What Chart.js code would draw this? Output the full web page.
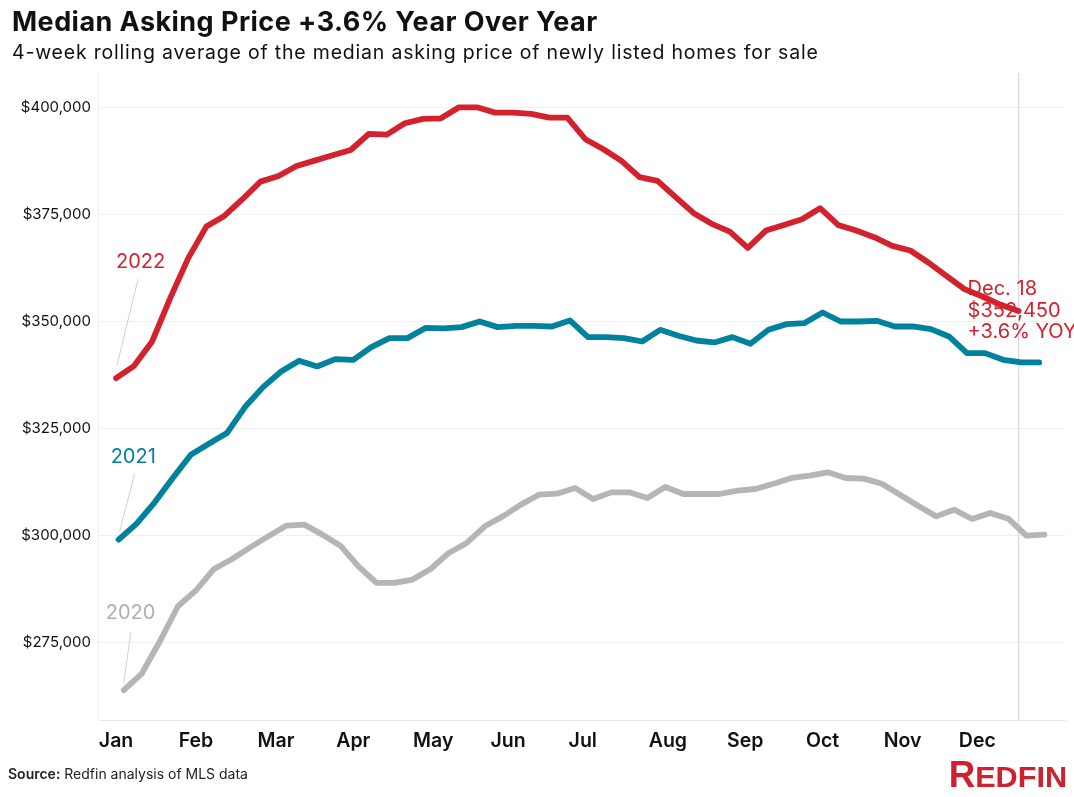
<!DOCTYPE html>
<html>
<head>
<meta charset="utf-8">
<script src="https://cdn.jsdelivr.net/npm/chart.js@4.4.1/dist/chart.umd.min.js"></script>
<style>
  body { margin: 0; background: #fff; }
  #wrap { position: relative; width: 1074px; height: 797px; overflow: hidden; }
  #chart { position: absolute; left: 0; top: 0; }
  .txt { position: absolute; white-space: nowrap; color: #111; }
  #title { left: 12px; top: 6px; font: bold 27px Inter, sans-serif; line-height: 32px; letter-spacing: 0.45px; }
  #subtitle { left: 12px; top: 40px; font: 19.5px Inter, sans-serif; line-height: 24px; letter-spacing: 0.8px; }
  #source { left: 8px; top: 765px; font: 14px Inter, sans-serif; line-height: 18px; color: #222; }
  #source b { font-weight: 600; }
  #logo { right: 7px; top: 757px; font: bold 36px "Liberation Sans Narrow", sans-serif; line-height: 36px; color: #d0202e; transform: scaleX(1.02); transform-origin: right top; }
  #logo span { font-size: 30px; }
</style>
</head>
<body>
<div id="wrap">
  <canvas id="chart" width="1074" height="797"></canvas>
  <div class="txt" id="title">Median Asking Price +3.6% Year Over Year</div>
  <div class="txt" id="subtitle">4-week rolling average of the median asking price of newly listed homes for sale</div>
  <div class="txt" id="source"><b>Source:</b> Redfin analysis of MLS data</div>
  <div class="txt" id="logo">R<span>EDFIN</span></div>
</div>
<script>
// weekly values, first week of each year starts on these day-of-year offsets (Jan 1 = 0)
const startDay2020 = 4;
const startDay2021 = 2;
const startDay2022 = 1;

const prices2020 = [
  263950, 267850, 275380, 283540, 287270, 292250, 294580, 297290, 299860, 302360,
  302590, 300260, 297690, 292870, 288990, 288990, 289770, 292250, 295990, 298320,
  302200, 304530, 307260, 309590, 309820, 311150, 308580, 310130, 310130, 308820,
  311380, 309750, 309750, 309750, 310520, 310910, 312150, 313480, 314020, 314800,
  313480, 313330, 312150, 309590, 307020, 304530, 306090, 303920, 305320, 303990,
  300030, 300260
];
const prices2021 = [
  299090, 302830, 307800, 313480, 318920, 321480, 323970, 330040, 334700, 338340,
  340840, 339510, 341230, 341070, 344030, 346130, 346130, 348500, 348380, 348690,
  350000, 348690, 349000, 349000, 348840, 350240, 346360, 346360, 346130, 345340,
  348060, 346670, 345570, 345110, 346360, 344800, 348070, 349390, 349630, 352110,
  350000, 350000, 350160, 348840, 348840, 348220, 346510, 342630, 342630, 341070,
  340450, 340450
];
const prices2022 = [
  336800, 339670, 345340, 355460, 364790, 372160, 374650, 378540, 382650, 383980,
  386310, 387550, 388800, 390040, 393770, 393610, 396270, 397300, 397430, 400000,
  400000, 398750, 398750, 398440, 397580, 397580, 392540, 390210, 387480, 383680,
  382810, 379010, 375280, 372790, 370990, 367200, 371220, 372550, 373880, 376440,
  372550, 371220, 369680, 367660, 366570, 363770, 360660, 357560, 355840, 353900,
  352450
];

const yTicks = [275000, 300000, 325000, 350000, 375000, 400000];
const monthLabels = ['Jan', 'Feb', 'Mar', 'Apr', 'May', 'Jun', 'Jul', 'Aug', 'Sep', 'Oct', 'Nov', 'Dec'];
const monthTickDays = [1, 32, 63, 93, 124, 153, 182, 215, 245, 275, 306, 335];
const markerDay = 351; // Dec. 18
const endNote = ['Dec. 18', '$352,450', '+3.6% YOY'];

const RED = '#d3222d';
const TEAL = '#00819e';
const GRAY = '#b5b5b5';

function toPoints(start, values) {
  return values.map((v, i) => ({ x: start + 7 * i, y: v }));
}

// label placement relative to first point of each line
const yearLabels = [
  { text: '2020', color: '#b0b0b0', dx: -18, dy: -71, lx1: 7, ly1: -58, lx2: 0, ly2: -7 },
  { text: '2021', color: TEAL, dx: -8, dy: -77, lx1: 16, ly1: -66, lx2: 1, ly2: -8 },
  { text: '2022', color: RED, dx: 0, dy: -110, lx1: 22, ly1: -99, lx2: 1, ly2: -13 }
];

const annotate = {
  id: 'annotate',
  beforeDatasetsDraw(chart) {
    const { ctx, chartArea, scales } = chart;
    const x = scales.x.getPixelForValue(markerDay);
    ctx.save();
    ctx.strokeStyle = '#dcdcdc';
    ctx.lineWidth = 1.5;
    ctx.beginPath();
    ctx.moveTo(x, chartArea.top);
    ctx.lineTo(x, chartArea.bottom);
    ctx.stroke();
    ctx.restore();
  },
  afterDatasetsDraw(chart) {
    const { ctx } = chart;
    ctx.save();
    ctx.font = '20px Inter, sans-serif';
    ctx.textBaseline = 'alphabetic';
    ctx.textAlign = 'left';
    yearLabels.forEach((lab, i) => {
      const p = chart.getDatasetMeta(i).data[0];
      ctx.strokeStyle = '#cfcfcf';
      ctx.lineWidth = 1;
      ctx.beginPath();
      ctx.moveTo(p.x + lab.lx1, p.y + lab.ly1);
      ctx.lineTo(p.x + lab.lx2, p.y + lab.ly2);
      ctx.stroke();
      ctx.fillStyle = lab.color;
      ctx.fillText(lab.text, p.x + lab.dx, p.y + lab.dy);
    });
    const pts = chart.getDatasetMeta(2).data;
    const last = pts[pts.length - 1];
    ctx.fillStyle = RED;
    endNote.forEach((line, k) => {
      ctx.fillText(line, last.x - 51, last.y - 16 + k * 21.5);
    });
    ctx.restore();
  }
};

Chart.defaults.font.family = 'Inter, sans-serif';

const lineStyle = {
  pointRadius: 0,
  pointHoverRadius: 0,
  borderWidth: 5.8,
  borderCapStyle: 'round',
  borderJoinStyle: 'round',
  tension: 0,
  fill: false
};

new Chart(document.getElementById('chart').getContext('2d'), {
  type: 'line',
  data: {
    datasets: [
      Object.assign({ label: '2020', data: toPoints(startDay2020, prices2020), borderColor: GRAY }, lineStyle),
      Object.assign({ label: '2021', data: toPoints(startDay2021, prices2021), borderColor: TEAL }, lineStyle),
      Object.assign({ label: '2022', data: toPoints(startDay2022, prices2022), borderColor: RED }, lineStyle)
    ]
  },
  options: {
    responsive: false,
    animation: false,
    devicePixelRatio: 1,
    layout: { padding: { top: 73, right: 9, bottom: 37, left: 0 } },
    plugins: {
      legend: { display: false },
      tooltip: { enabled: false }
    },
    scales: {
      x: {
        type: 'linear',
        min: -6,
        max: 369,
        afterFit(scale) { scale.height = 40; },
        afterBuildTicks(scale) { scale.ticks = monthTickDays.map(v => ({ value: v })); },
        grid: { display: false, drawTicks: false },
        border: { display: true, color: '#e8e8e8', width: 1 },
        ticks: {
          autoSkip: false,
          maxRotation: 0,
          padding: 9,
          color: '#111',
          font: { size: 19.5, weight: '600' },
          callback: (v, i) => monthLabels[i]
        }
      },
      y: {
        min: 257000,
        max: 408000,
        afterFit(scale) { scale.width = 98; },
        afterBuildTicks(scale) { scale.ticks = yTicks.map(v => ({ value: v })); },
        grid: { color: '#f0f0f0', lineWidth: 1, drawTicks: false },
        border: { display: true, color: '#ececec', width: 1 },
        ticks: {
          padding: 7,
          color: '#111',
          font: { size: 15 },
          callback: v => '$' + v.toLocaleString('en-US')
        }
      }
    }
  },
  plugins: [annotate]
});
</script>
</body>
</html>
